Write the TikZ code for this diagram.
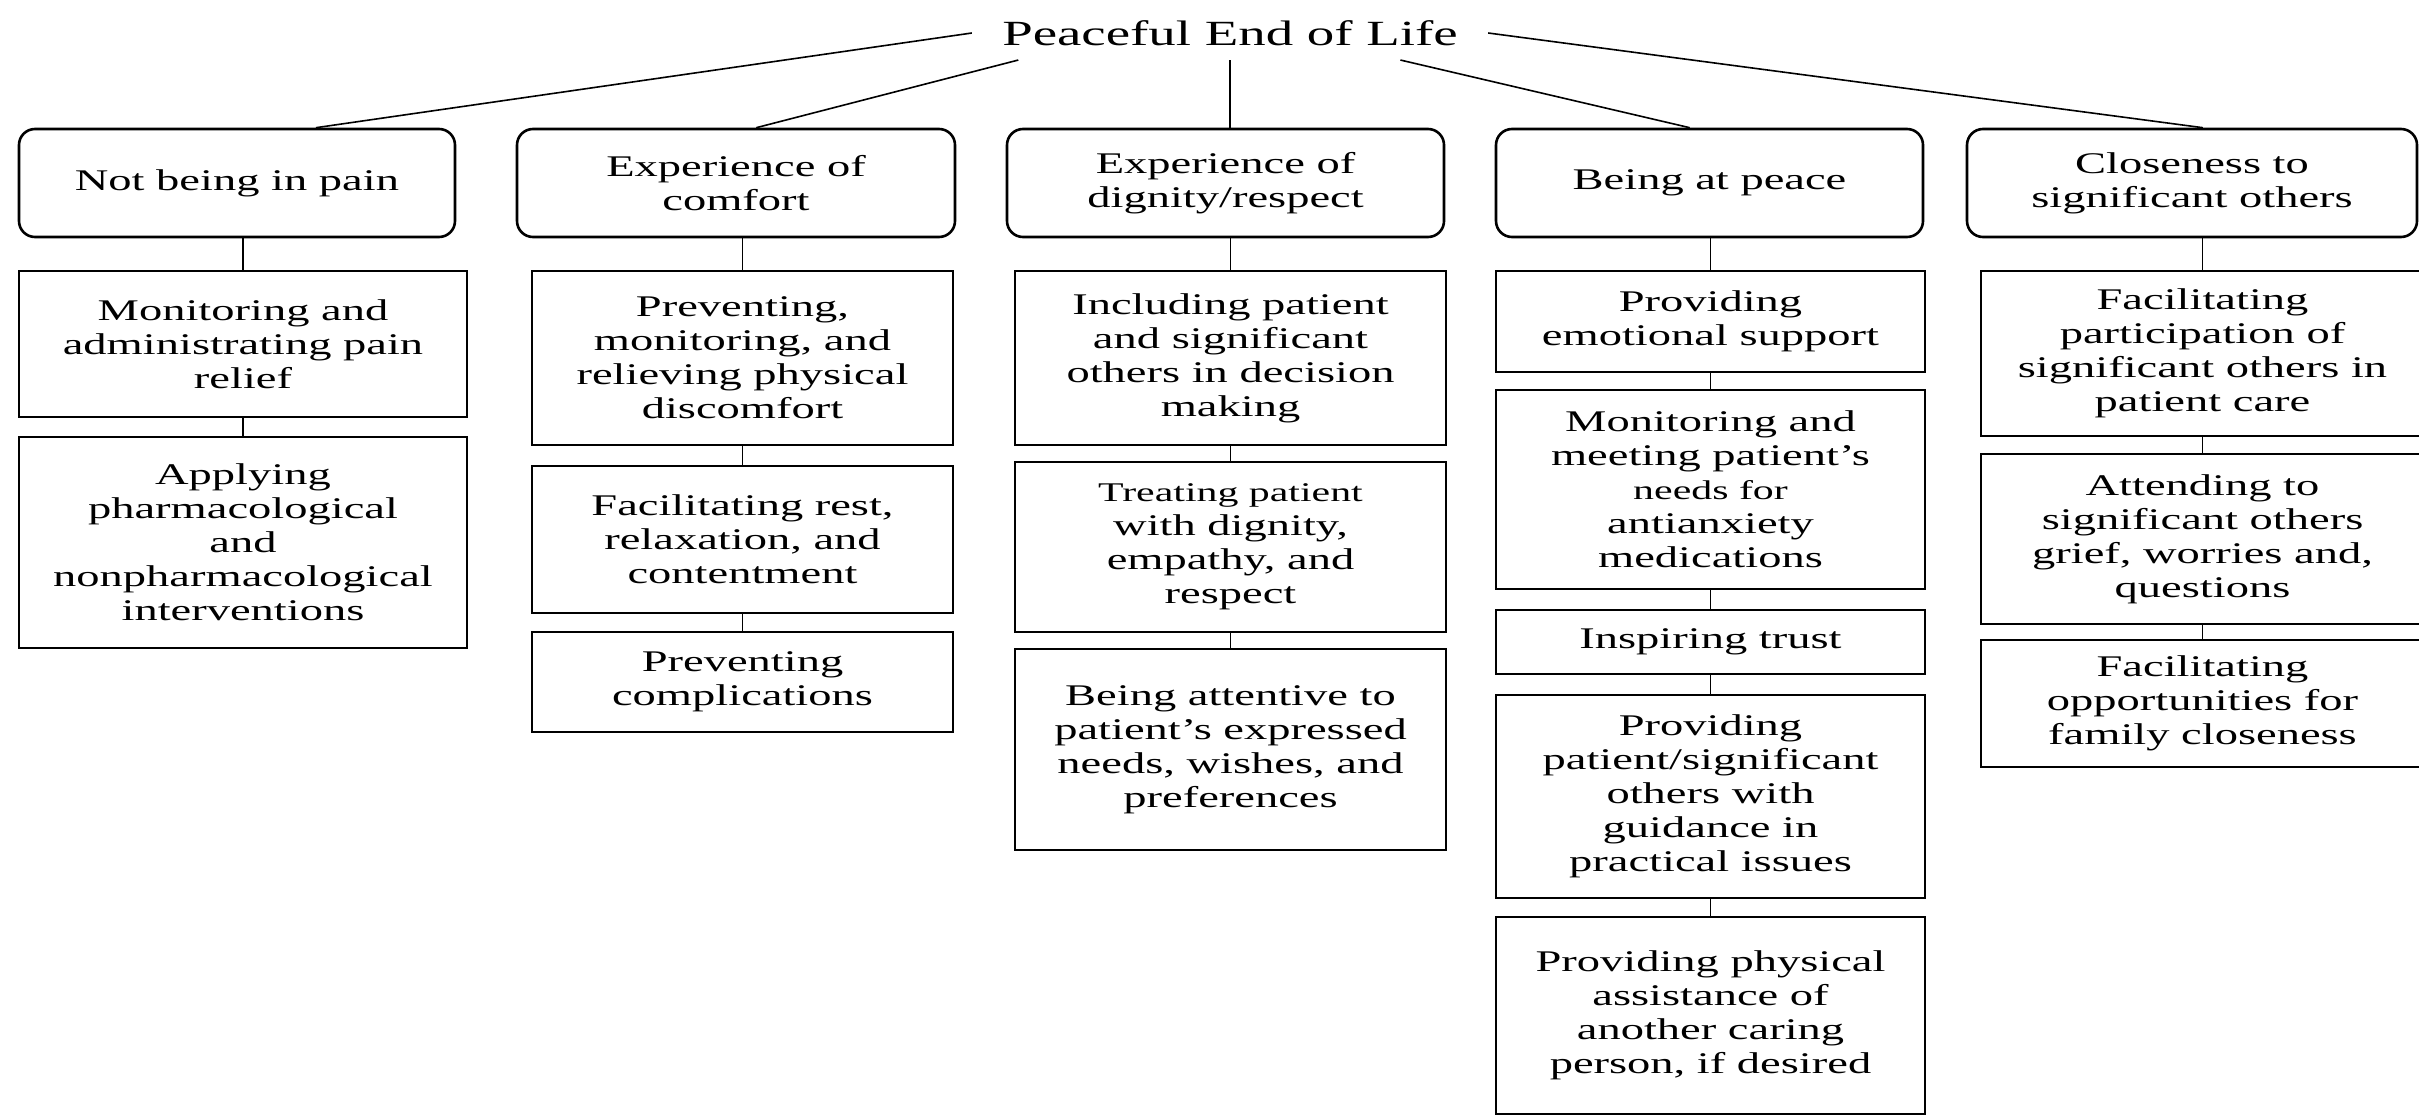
\documentclass[tikz,border=0pt]{standalone}
\usepackage{fontspec}
\setmainfont{Liberation Serif}[FakeStretch=1.55]
\usetikzlibrary{calc}
\tikzset{
  basebox/.style={draw, line width=1.3pt, inner sep=0pt, align=center,
    font=\fontsize{15pt}{17pt}\selectfont},
  topbox/.style={basebox, rounded corners=8pt, minimum height=54pt},
  subbox/.style={basebox, rectangle},
  link/.style={line width=0.7pt},
  titlelink/.style={line width=0.8pt},
}
\newcommand{\smallline}{\fontsize{13.5pt}{17pt}\selectfont}
\begin{document}
\begin{tikzpicture}[x=0.5pt, y=-0.5pt]
\useasboundingbox (0,0) rectangle (2419,1118);
\clip (0,0) rectangle (2419,1118);
\fill[white] (0,0) rectangle (2419,1118);

% title
\node[inner xsep=15pt, inner ysep=7pt, font=\fontsize{17.7pt}{20pt}\selectfont] (title) at (1230,33) {Peaceful End of Life};

% top boxes
\node[topbox, minimum width=218pt]   (t1) at (237,183)    {Not being in pain};
\node[topbox, minimum width=219pt]   (t2) at (736,183)    {Experience of\\comfort};
\node[topbox, minimum width=218.5pt] (t3) at (1225.5,183) {Experience of\\dignity/respect};
\node[topbox, minimum width=213.5pt] (t4) at (1709.5,183) {Being at peace};
\node[topbox, minimum width=225pt]   (t5) at (2192,183)   {Closeness to\\significant others};

% column 1
\node[subbox, minimum width=224pt, minimum height=73pt]    (a1) at (243,344)   {Monitoring and\\administrating pain\\relief};
\node[subbox, minimum width=224pt, minimum height=105.5pt] (a2) at (243,542.5) {Applying\\pharmacological\\and\\nonpharmacological\\interventions};

% column 2
\node[subbox, minimum width=210.5pt, minimum height=87pt]   (b1) at (742.5,358)   {Preventing,\\monitoring, and\\relieving physical\\discomfort};
\node[subbox, minimum width=210.5pt, minimum height=73.5pt] (b2) at (742.5,539.5) {Facilitating rest,\\relaxation, and\\contentment};
\node[subbox, minimum width=210.5pt, minimum height=50pt]   (b3) at (742.5,682)   {Preventing\\complications};

% column 3
\node[subbox, minimum width=215.5pt, minimum height=87pt]    (c1) at (1230.5,358)   {Including patient\\and significant\\others in decision\\making};
\node[subbox, minimum width=215.5pt, minimum height=85pt]    (c2) at (1230.5,547)   {{\smallline Treating patient}\\with dignity,\\empathy, and\\respect};
\node[subbox, minimum width=215.5pt, minimum height=100.5pt] (c3) at (1230.5,749.5) {Being attentive to\\patient’s expressed\\needs, wishes, and\\preferences};

% column 4
\node[subbox, minimum width=214.5pt, minimum height=50.5pt]  (d1) at (1710.5,321.5)  {Providing\\emotional support};
\node[subbox, minimum width=214.5pt, minimum height=99.5pt]  (d2) at (1710.5,489.5)  {Monitoring and\\meeting patient’s\\{\smallline needs for}\\antianxiety\\medications};
\node[subbox, minimum width=214.5pt, minimum height=32pt]    (d3) at (1710.5,642)    {Inspiring trust};
\node[subbox, minimum width=214.5pt, minimum height=101.5pt] (d4) at (1710.5,796.5)  {Providing\\patient/significant\\others with\\guidance in\\practical issues};
\node[subbox, minimum width=214.5pt, minimum height=98.5pt]  (d5) at (1710.5,1015.5) {Providing physical\\assistance of\\another caring\\person, if desired};

% column 5
\node[subbox, minimum width=221.5pt, minimum height=82.5pt] (e1) at (2202.5,353.5) {Facilitating\\participation of\\significant others in\\patient care};
\node[subbox, minimum width=221.5pt, minimum height=85pt]   (e2) at (2202.5,539)   {Attending to\\significant others\\grief, worries and,\\questions};
\node[subbox, minimum width=221.5pt, minimum height=63.5pt] (e3) at (2202.5,703.5) {Facilitating\\opportunities for\\family closeness};

% title connectors
\draw[titlelink] (title.west) -- ($(t1.north west)!0.68!(t1.north east)$);
\draw[titlelink] ($(title.south west)!0.09!(title.south east)$) -- ($(t2.north west)!0.546!(t2.north east)$);
\draw[titlelink] (title.south) -- (title.south |- t3.north);
\draw[titlelink] ($(title.south west)!0.83!(title.south east)$) -- ($(t4.north west)!0.454!(t4.north east)$);
\draw[titlelink] (title.east) -- ($(t5.north west)!0.524!(t5.north east)$);

% column connectors
\draw[link] (a1.north) -- (a1.north |- t1.south);
\draw[link] (a2.north) -- (a2.north |- a1.south);
\draw[link] (b1.north) -- (b1.north |- t2.south);
\draw[link] (b2.north) -- (b2.north |- b1.south);
\draw[link] (b3.north) -- (b3.north |- b2.south);
\draw[link] (c1.north) -- (c1.north |- t3.south);
\draw[link] (c2.north) -- (c2.north |- c1.south);
\draw[link] (c3.north) -- (c3.north |- c2.south);
\draw[link] (d1.north) -- (d1.north |- t4.south);
\draw[link] (d2.north) -- (d2.north |- d1.south);
\draw[link] (d3.north) -- (d3.north |- d2.south);
\draw[link] (d4.north) -- (d4.north |- d3.south);
\draw[link] (d5.north) -- (d5.north |- d4.south);
\draw[link] (e1.north) -- (e1.north |- t5.south);
\draw[link] (e2.north) -- (e2.north |- e1.south);
\draw[link] (e3.north) -- (e3.north |- e2.south);
\end{tikzpicture}
\end{document}
